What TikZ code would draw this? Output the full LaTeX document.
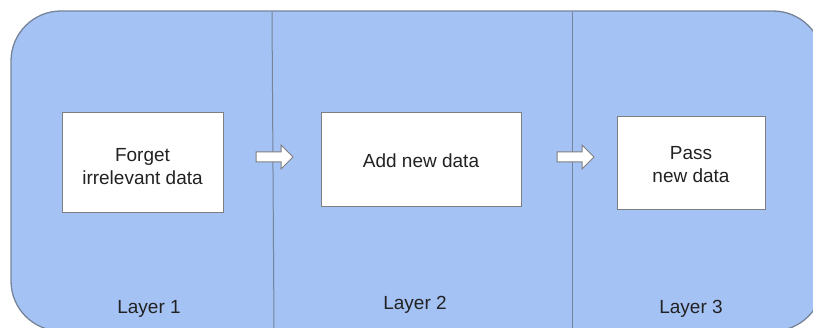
\documentclass[tikz,border=0pt]{standalone}
\usepackage{fontspec}
\setmainfont{Liberation Sans}
\definecolor{panelblue}{HTML}{A4C2F4}
\definecolor{panelline}{HTML}{76849A}
\definecolor{boxline}{HTML}{7F7F7F}
\definecolor{txt}{HTML}{222222}
\begin{document}
\begin{tikzpicture}[x=1pt,y=-1pt,
  panel/.style={fill=panelblue,draw=panelline,line width=1.3pt,rounded corners=50pt},
  divider/.style={draw=panelline,line width=1pt},
  stepbox/.style={draw=boxline,fill=white,line width=1pt,inner sep=0pt},
  boxtext/.style={align=center,text=txt,font=\fontsize{19}{23}\selectfont,inner sep=0pt},
  layerlabel/.style={text=txt,font=\fontsize{19}{23}\selectfont,inner sep=0pt},
  blockarrow/.style={draw=boxline,fill=white,line width=1pt,line join=miter}]
\useasboundingbox (0,0) rectangle (813,328);
\clip (0,0) rectangle (813,328);
\path[panel] (11,11) rectangle (823,331);
\draw[divider] (272,12) -- (274,330);
\draw[divider] (572,12) -- (572,330);
\node[stepbox,minimum width=161pt,minimum height=100pt] (forget) at (142.5,163) {};
\node[stepbox,minimum width=200pt,minimum height=94pt] (add) at (421,160) {};
\node[stepbox,minimum width=148pt,minimum height=93pt] (pass) at (691,163.5) {};
\node[boxtext] (forgett) at ([yshift=-3.5pt]forget.center) {Forget\\irrelevant data};
\node[boxtext] (addt) at ([yshift=-1pt]add.center) {Add new data};
\node[boxtext] (passt) at ([yshift=-1.5pt]pass.center) {Pass\\new data};
\draw[blockarrow] (256,152) -- (281,152) -- (281,145) -- (293,157) -- (281,169) -- (281,162) -- (256,162) -- cycle;
\draw[blockarrow] (557,152) -- (582,152) -- (582,145) -- (594,157) -- (582,169) -- (582,162) -- (557,162) -- cycle;
\node[layerlabel] (l1) at (149,308.5) {Layer 1};
\node[layerlabel] (l2) at (415,304.5) {Layer 2};
\node[layerlabel] (l3) at (691,308.5) {Layer 3};
\end{tikzpicture}
\end{document}
